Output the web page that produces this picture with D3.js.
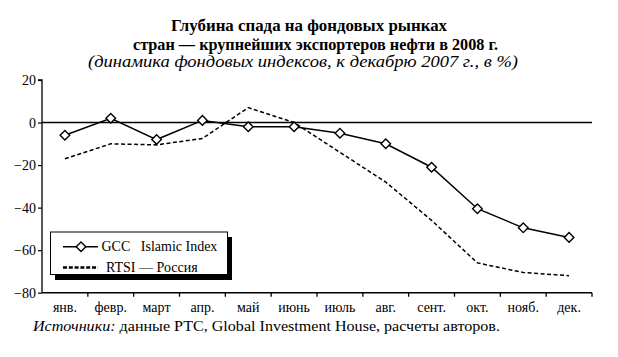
<!DOCTYPE html>
<html><head><meta charset="utf-8">
<script src="https://cdn.jsdelivr.net/npm/d3@7"></script>
<style>body{margin:0;background:#fff}svg{display:block}</style>
</head><body>
<svg id="c" width="618" height="357" font-family="'Liberation Serif','DejaVu Serif','Times New Roman',serif"></svg>
<script>
const months = ["янв.","февр.","март","апр.","май","июнь","июль","авг.","сент.","окт.","нояб.","дек."];
const gcc = [-6, 2, -8, 1, -2, -2, -5, -10, -21, -40.5, -49.5, -54];
const rtsi = [-17, -10, -10.5, -7.5, 7, 0, -14, -28, -46, -66, -70.5, -72];
const yTicks = [20, 0, -20, -40, -60, -80];
const seriesNames = ["GCC   Islamic Index", "RTSI — Россия"];
const titleLines = ["Глубина спада на фондовых рынках", "стран — крупнейших экспортеров нефти в 2008 г.", "(динамика фондовых индексов, к декабрю 2007 г., в %)"];

const FONT = "'Liberation Serif','DejaVu Serif','Times New Roman',serif";
const svg = d3.select("#c");
const L = 42, R = 592, T = 80, B = 292.7;
const x = d3.scaleBand().domain(months).range([L, R]);
const y = d3.scaleLinear().domain([-80, 20]).range([B, T]);

function txt(sel){ return sel.attr("font-family", FONT).attr("fill","#000"); }
function fit(sel, w){ return sel.attr("textLength", w).attr("lengthAdjust","spacingAndGlyphs"); }

// titles
fit(txt(svg.append("text")).attr("x", 171).attr("y", 31)
  .attr("font-weight","bold").attr("font-size","17px").text(titleLines[0]), 276);
fit(txt(svg.append("text")).attr("x", 133).attr("y", 50)
  .attr("font-weight","bold").attr("font-size","17px").text(titleLines[1]), 365);
fit(txt(svg.append("text")).attr("x", 88).attr("y", 67)
  .attr("font-style","italic").attr("font-size","17px").text(titleLines[2]), 430);

// y axis
const yAxis = d3.axisLeft(y).tickValues(yTicks).tickSize(4).tickFormat(d => d < 0 ? "−" + Math.abs(d) : d);
const gy = svg.append("g").attr("transform", `translate(${L},0)`).call(yAxis).attr("font-family", FONT);
gy.select(".domain").attr("stroke","#000").attr("stroke-width",1.3).attr("d", `M-4,${T}H0V${B}`);
gy.selectAll(".tick line").attr("stroke","#000").attr("stroke-width",1.2);
gy.selectAll(".tick text").attr("x",-6).attr("font-size","14px").attr("fill","#000");

// x axis
const boundaries = d3.range(1, 13).map(i => L + i * x.bandwidth());
svg.append("line").attr("x1", L).attr("x2", R).attr("y1", B).attr("y2", B).attr("stroke","#000").attr("stroke-width",1.5);
svg.selectAll(".xt").data(boundaries).join("line").attr("x1", d=>d).attr("x2", d=>d)
  .attr("y1", B).attr("y2", B+4).attr("stroke","#000").attr("stroke-width",1.3);
txt(svg.selectAll(".xl").data(months).join("text")).attr("x", d => x(d) + x.bandwidth()/2).attr("y", 312)
  .attr("text-anchor","middle").attr("font-size","14px").text(d=>d);

// zero line
svg.append("line").attr("x1", L).attr("x2", R).attr("y1", y(0)).attr("y2", y(0)).attr("stroke","#000").attr("stroke-width",1.5);

const cx = d => x(d) + x.bandwidth()/2;
const line = d3.line().x((d,i)=>cx(months[i])).y(d=>y(d));
svg.append("path").datum(rtsi).attr("d", line).attr("fill","none").attr("stroke","#000")
  .attr("stroke-width",1.5).attr("stroke-dasharray","4,2.5");
svg.append("path").datum(gcc).attr("d", line).attr("fill","none").attr("stroke","#000").attr("stroke-width",1.5);
const diamond = (px, py, r) => `M${px},${py-r}L${px+r},${py}L${px},${py+r}L${px-r},${py}Z`;
svg.selectAll(".m").data(gcc).join("path").attr("d",(d,i)=>diamond(cx(months[i]), y(d), 4.8))
  .attr("fill","#fff").attr("stroke","#000").attr("stroke-width",1.4);

// legend
const lg = svg.append("g");
lg.append("rect").attr("x", 55).attr("y", 237).attr("width", 177).attr("height", 43).attr("fill","#000");
lg.append("rect").attr("x", 50.5).attr("y", 232).attr("width", 177).attr("height", 42.5).attr("fill","#fff").attr("stroke","#000").attr("stroke-width",1);
lg.append("line").attr("x1",63).attr("x2",98).attr("y1",246.7).attr("y2",246.7).attr("stroke","#000").attr("stroke-width",1.5);
lg.append("path").attr("d", diamond(81, 246.7, 4.8)).attr("fill","#fff").attr("stroke","#000").attr("stroke-width",1.4);
txt(lg.append("text")).attr("x",101.5).attr("y",251).attr("font-size","14px").attr("xml:space","preserve").style("white-space","pre").text(seriesNames[0]);
lg.append("line").attr("x1",63).attr("x2",98).attr("y1",267.5).attr("y2",267.5).attr("stroke","#000").attr("stroke-width",2.5).attr("stroke-dasharray","4,1.8");
txt(lg.append("text")).attr("x",106).attr("y",272).attr("font-size","14px").text(seriesNames[1]);

// source
const src = fit(txt(svg.append("text")).attr("x", 33).attr("y", 331).attr("font-size","14px"), 467);
src.append("tspan").attr("font-style","italic").text("Источники:");
src.append("tspan").text(" данные РТС, Global Investment House, расчеты авторов.");
</script>
</body></html>
